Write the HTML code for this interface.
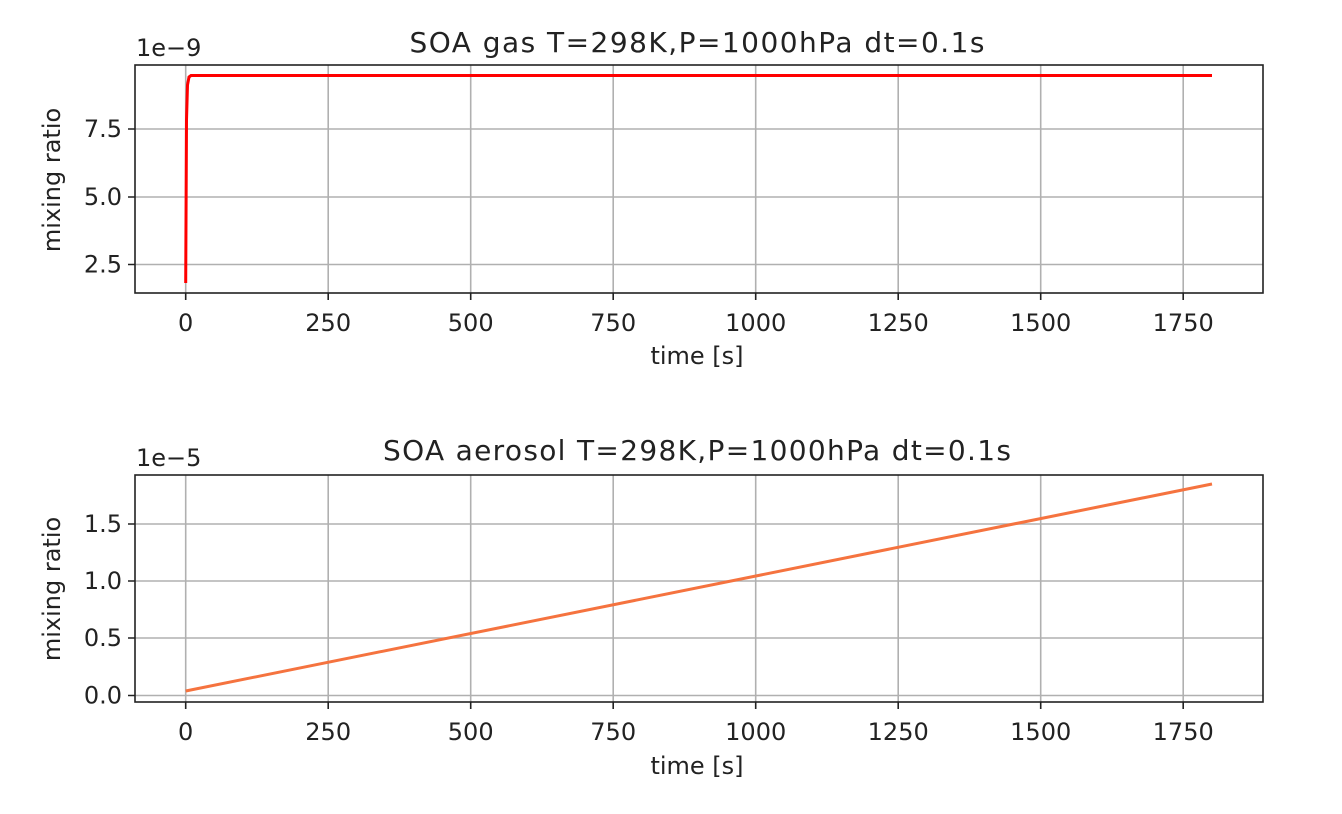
<!DOCTYPE html>
<html><head><meta charset="utf-8"><style>body{margin:0;background:#fff}svg{display:block}</style></head><body>
<svg width="1342" height="814" xmlns="http://www.w3.org/2000/svg" font-family="DejaVu Sans, Liberation Sans, sans-serif" fill="#222">
<g stroke="#b0b0b0" stroke-width="1.6">
<line x1="185.7" y1="65" x2="185.7" y2="293"/><line x1="328.2" y1="65" x2="328.2" y2="293"/><line x1="470.7" y1="65" x2="470.7" y2="293"/><line x1="613.2" y1="65" x2="613.2" y2="293"/><line x1="755.7" y1="65" x2="755.7" y2="293"/><line x1="898.2" y1="65" x2="898.2" y2="293"/><line x1="1040.7" y1="65" x2="1040.7" y2="293"/><line x1="1183.2" y1="65" x2="1183.2" y2="293"/>
<line x1="135" y1="129" x2="1263" y2="129"/><line x1="135" y1="197" x2="1263" y2="197"/><line x1="135" y1="264.5" x2="1263" y2="264.5"/>
<line x1="185.7" y1="475" x2="185.7" y2="702"/><line x1="328.2" y1="475" x2="328.2" y2="702"/><line x1="470.7" y1="475" x2="470.7" y2="702"/><line x1="613.2" y1="475" x2="613.2" y2="702"/><line x1="755.7" y1="475" x2="755.7" y2="702"/><line x1="898.2" y1="475" x2="898.2" y2="702"/><line x1="1040.7" y1="475" x2="1040.7" y2="702"/><line x1="1183.2" y1="475" x2="1183.2" y2="702"/>
<line x1="135" y1="524" x2="1263" y2="524"/><line x1="135" y1="581" x2="1263" y2="581"/><line x1="135" y1="638" x2="1263" y2="638"/><line x1="135" y1="695.5" x2="1263" y2="695.5"/>
</g>
<polyline points="185.7,283 186.5,120 187.5,85 189,77 191,75.5 1212,75.5" fill="none" stroke="#ff0000" stroke-width="3"/>
<line x1="185.7" y1="691" x2="1212" y2="484" stroke="#f5733f" stroke-width="3"/>
<g fill="none" stroke="#222" stroke-width="1.6">
<rect x="135" y="65" width="1128" height="228"/><rect x="135" y="475" width="1128" height="227"/>
</g>
<g stroke="#222" stroke-width="1.6">
<path d="M185.7 293v7M328.2 293v7M470.7 293v7M613.2 293v7M755.7 293v7M898.2 293v7M1040.7 293v7M1183.2 293v7M135 129h-7M135 197h-7M135 264.5h-7"/>
<path d="M185.7 702v7M328.2 702v7M470.7 702v7M613.2 702v7M755.7 702v7M898.2 702v7M1040.7 702v7M1183.2 702v7M135 524h-7M135 581h-7M135 638h-7M135 695.5h-7"/>
</g>
<g font-size="24" text-anchor="middle">
<text x="185.7" y="331">0</text><text x="328.2" y="331">250</text><text x="470.7" y="331">500</text><text x="613.2" y="331">750</text><text x="755.7" y="331">1000</text><text x="898.2" y="331">1250</text><text x="1040.7" y="331">1500</text><text x="1183.2" y="331">1750</text>
<text x="185.7" y="740">0</text><text x="328.2" y="740">250</text><text x="470.7" y="740">500</text><text x="613.2" y="740">750</text><text x="755.7" y="740">1000</text><text x="898.2" y="740">1250</text><text x="1040.7" y="740">1500</text><text x="1183.2" y="740">1750</text>
<text x="697" y="364">time [s]</text><text x="697" y="774">time [s]</text>
</g>
<g font-size="24" text-anchor="end">
<text x="122" y="137">7.5</text><text x="122" y="205">5.0</text><text x="122" y="272.5">2.5</text>
<text x="122" y="532">1.5</text><text x="122" y="589">1.0</text><text x="122" y="646">0.5</text><text x="122" y="703.5">0.0</text>
</g>
<g font-size="24">
<text x="136" y="56">1e−9</text><text x="136" y="466">1e−5</text>
<text transform="translate(60,180) rotate(-90)" text-anchor="middle">mixing ratio</text>
<text transform="translate(60,589) rotate(-90)" text-anchor="middle">mixing ratio</text>
</g>
<g font-size="28" text-anchor="middle">
<text x="697" y="52" textLength="575">SOA gas T=298K,P=1000hPa dt=0.1s</text>
<text x="697" y="460" textLength="628">SOA aerosol T=298K,P=1000hPa dt=0.1s</text>
</g>
</svg>
</body></html>
